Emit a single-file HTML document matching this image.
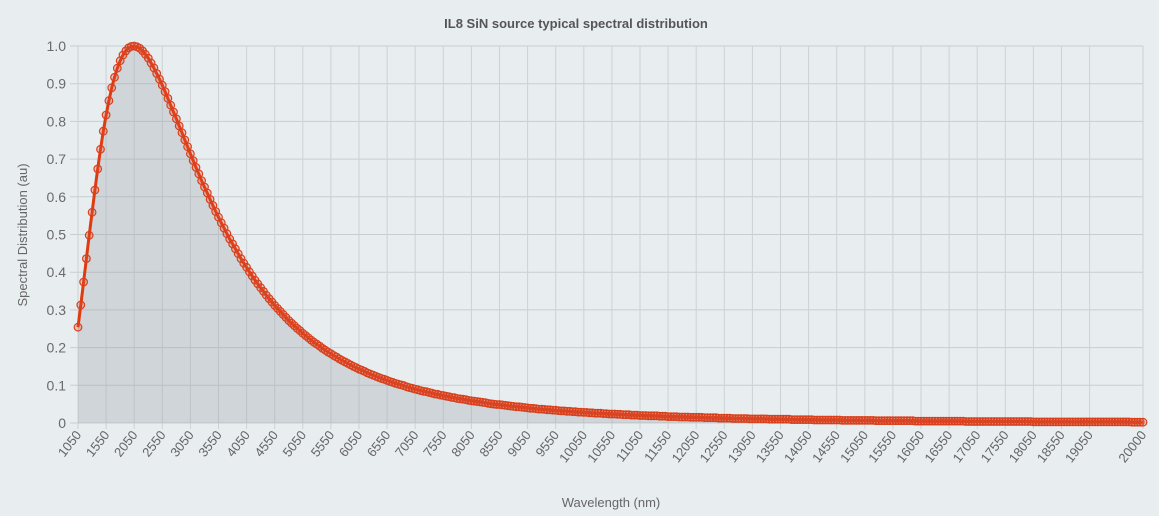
<!DOCTYPE html>
<html><head><meta charset="utf-8"><style>
html,body{margin:0;padding:0;background:#e8edf0;}
svg{display:block;font-family:"Liberation Sans",sans-serif;}
</style></head><body>
<svg id="c" width="1159" height="516" xmlns="http://www.w3.org/2000/svg">
<rect width="1159" height="516" fill="#e8edf0"/>
<text x="576" y="28" text-anchor="middle" font-size="13" font-weight="bold" fill="#555">IL8 SiN source typical spectral distribution</text>
<text transform="translate(27,235) rotate(-90)" text-anchor="middle" font-size="13" fill="#666">Spectral Distribution (au)</text>
<text x="611" y="507" text-anchor="middle" font-size="13" fill="#666">Wavelength  (nm)</text>
<g id="g"></g>
</svg>
<script>
var g=document.getElementById('g');
var x0=78,x1=1143,y0=423,y1=46;
function X(l){return x0+(l-1050)/(20000-1050)*(x1-x0);}
function Y(v){return y0-v*(y0-y1);}
var h='';
for(var i=0;i<=10;i++){var y=Y(i/10);h+='<line x1="'+(x0-8)+'" x2="'+x1+'" y1="'+y+'" y2="'+y+'" stroke="#c8cdd0" stroke-width="1"/>';
h+='<text x="66" y="'+(y+5)+'" text-anchor="end" font-size="14" fill="#6a6a6a">'+(i==0?'0':(i/10).toFixed(1))+'</text>';}
var ticks=[];for(var l=1050;l<=19050;l+=500)ticks.push(l);ticks.push(20000);
ticks.forEach(function(l){var x=X(l);h+='<line x1="'+x+'" x2="'+x+'" y1="'+y1+'" y2="'+(y0+6)+'" stroke="#cdd2d5" stroke-width="1"/>';
h+='<text transform="translate('+(x+4)+','+(y0+12)+') rotate(-52)" text-anchor="end" font-size="13" fill="#666">'+l+'</text>';});
var T=1420;function B(l){var u=l/1000;return Math.pow(u,-5)/(Math.exp(14388/(u*T))-1);}
var mx=0,pts=[];for(var l=1050;l<=20000;l+=50){var v=B(l);pts.push([l,v]);if(v>mx)mx=v;}
var d='',cs='';pts.forEach(function(p,i){var v=Math.round(p[1]/mx*1000)/1000;var x=X(p[0]).toFixed(1),y=Y(v).toFixed(1);d+=(i?'L':'M')+x+' '+y;cs+='<circle cx="'+x+'" cy="'+y+'" r="3.8" fill="rgba(224,80,50,0.25)" stroke="#d8401c" stroke-width="1.2"/>';});
h+='<path d="'+d+'L'+x1+' '+y0+'L'+x0+' '+y0+'Z" fill="rgba(150,160,165,0.3)"/>';
h+='<path d="'+d+'" fill="none" stroke="#e03a10" stroke-width="3"/>'+cs;
g.innerHTML=h;
</script>
</body></html>
